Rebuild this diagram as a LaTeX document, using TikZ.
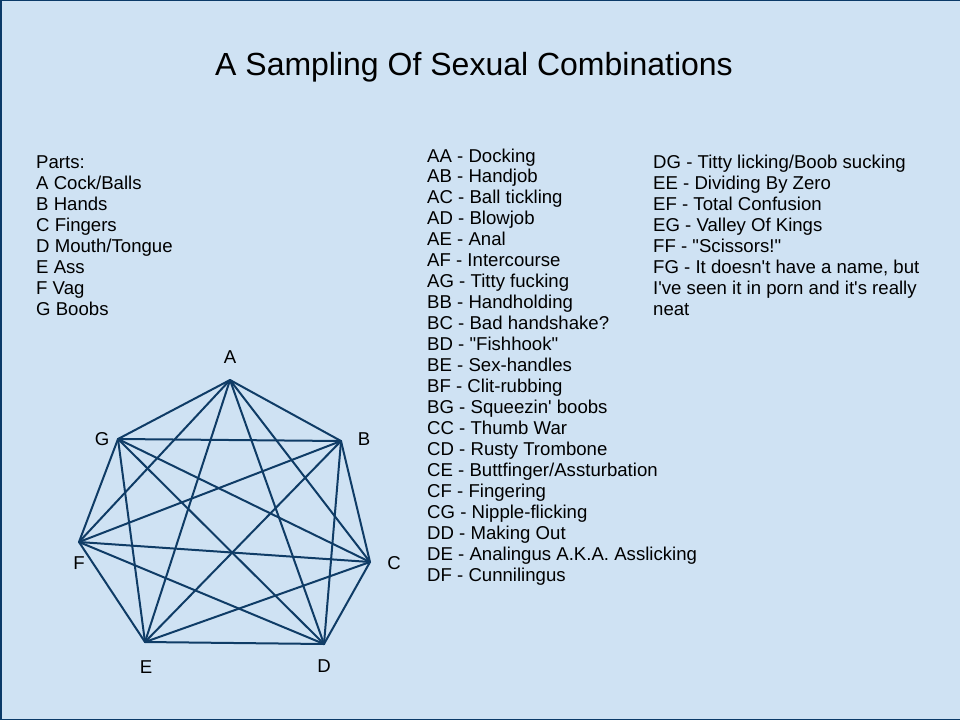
\documentclass[tikz,border=0pt]{standalone}
\usepackage{fontspec}
\setmainfont{Liberation Sans}
\definecolor{bgblue}{HTML}{CFE2F3}
\definecolor{bdblue}{HTML}{0B3A68}
\definecolor{edgeblue}{HTML}{0F3C66}
\tikzset{
  txt/.style={anchor=base west, inner sep=0pt, font=\fontsize{18.6}{21}\selectfont},
  vlabel/.style={inner sep=0pt, font=\fontsize{18.6}{21}\selectfont},
  edge/.style={draw=edgeblue, line width=2pt, line cap=round}
}
\begin{document}
\begin{tikzpicture}[x=1pt,y=-1pt]
\useasboundingbox (0,0) rectangle (960,720);
\fill[bgblue] (0,0) rectangle (960,720);
\fill[bdblue] (0,0) rectangle (2,720);
\fill[bdblue] (0,0) rectangle (960,1);
\fill[bdblue] (0,719) rectangle (960,720);

\node[anchor=base, inner sep=0pt, font=\fontsize{32}{36}\selectfont] (title) at (474,75) {A Sampling Of Sexual Combinations};

% parts list
\foreach \t [count=\i from 0] in {Parts:, A Cock/Balls, B Hands, C Fingers, D Mouth/Tongue, E Ass, F Vag, G Boobs}
  \node[txt] (p\i) at (36,168+21*\i) {\t};

% middle column
\foreach \t [count=\i from 0] in {AA - Docking, AB - Handjob, AC - Ball tickling, AD - Blowjob, AE - Anal, AF - Intercourse, AG - Titty fucking, BB - Handholding, BC - Bad handshake?, BD - \textquotedbl Fishhook\textquotedbl, BE - Sex-handles, BF - Clit-rubbing, BG - Squeezin\textquotesingle{} boobs, CC - Thumb War, CD - Rusty Trombone, CE - Buttfinger/Assturbation, CF - Fingering, CG - Nipple-flicking, DD - Making Out, DE - Analingus A.K.A. Asslicking, DF - Cunnilingus}
  \node[txt] (m\i) at (427,162+20.95*\i) {\t};

% right column
\foreach \t [count=\i from 0] in {DG - Titty licking/Boob sucking, EE - Dividing By Zero, EF - Total Confusion, EG - Valley Of Kings, FF - \textquotedbl Scissors!\textquotedbl, {FG - It doesn\textquotesingle t have a name, but}, I\textquotesingle ve seen it in porn and it\textquotesingle s really, neat}
  \node[txt] (r\i) at (653,168+21*\i) {\t};

% graph vertices
\coordinate (A) at (230,380);
\coordinate (B) at (341,441);
\coordinate (C) at (370,562);
\coordinate (D) at (324,644);
\coordinate (E) at (145,642);
\coordinate (F) at (79,542);
\coordinate (G) at (118,439);

\node[vlabel] (lA) at (230,357) {A};
\node[vlabel] (lB) at (364,439) {B};
\node[vlabel] (lC) at (394,563) {C};
\node[vlabel] (lD) at (324,666) {D};
\node[vlabel] (lE) at (146,667) {E};
\node[vlabel] (lF) at (79,563) {F};
\node[vlabel] (lG) at (102,439) {G};

\foreach \a/\b in {A/B,A/C,A/D,A/E,A/F,A/G,B/C,B/D,B/E,B/F,B/G,C/D,C/E,C/F,C/G,D/E,D/F,D/G,E/F,E/G,F/G}
  \draw[edge] (\a) -- (\b);
\end{tikzpicture}
\end{document}
